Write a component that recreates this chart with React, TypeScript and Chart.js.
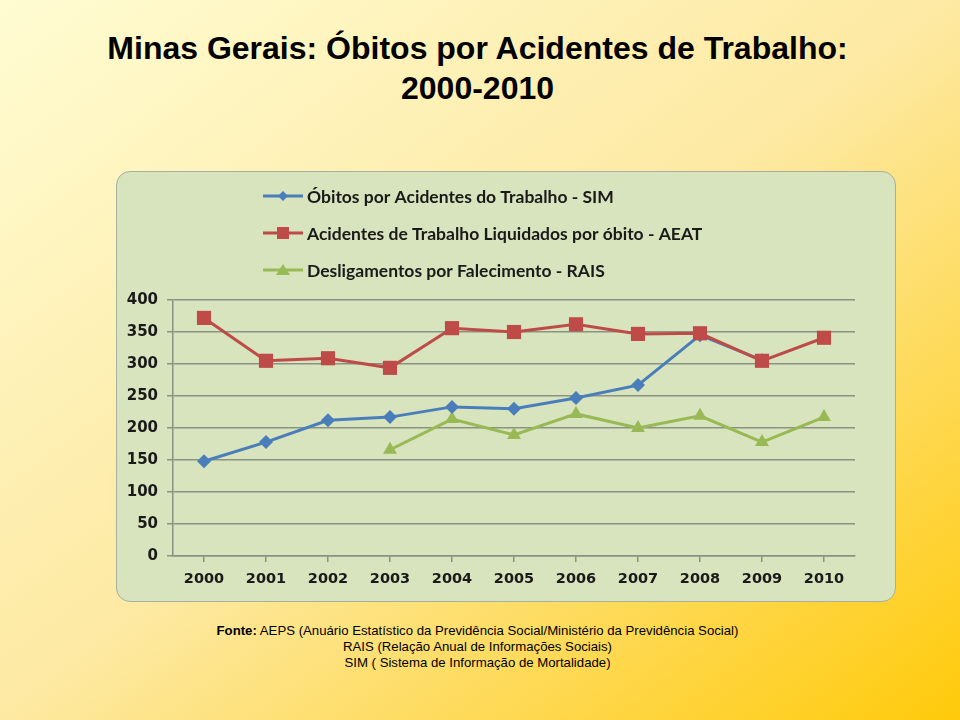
import React, { useEffect, useRef } from "react";
import { Chart, registerables } from "chart.js";

Chart.register(...registerables);

const years = ["2000", "2001", "2002", "2003", "2004", "2005", "2006", "2007", "2008", "2009", "2010"];
const simValues = [148, 178, 212, 217, 233, 230, 247, 267, 345, 306, null];
const aeatValues = [372, 305, 309, 294, 356, 350, 362, 347, 348, 305, 341];
const raisValues = [null, null, null, 166, 214, 189, 222, 200, 219, 178, 217];
const seriesNames = [
  "Óbitos por Acidentes do Trabalho - SIM",
  "Acidentes de Trabalho Liquidados por óbito - AEAT",
  "Desligamentos por Falecimento - RAIS",
];
const yTicks = [0, 50, 100, 150, 200, 250, 300, 350, 400];

const BLUE = "#4a7ebb";
const RED = "#be4b48";
const GREEN = "#98b954";

const legendPlugin = {
  id: "stackedLegend",
  afterDraw(chart: any) {
    const ctx = chart.ctx;
    const ds = chart.data.datasets;
    ctx.save();
    ds.forEach((d: any, i: number) => {
      const y = 24 + i * 37;
      const x0 = 146;
      const x1 = 186;
      ctx.strokeStyle = d.borderColor;
      ctx.lineWidth = 3;
      ctx.beginPath();
      ctx.moveTo(x0, y);
      ctx.lineTo(x1, y);
      ctx.stroke();
      ctx.fillStyle = d.borderColor;
      const cx = (x0 + x1) / 2;
      ctx.beginPath();
      if (d.pointStyle === "rectRot") {
        ctx.moveTo(cx, y - 5);
        ctx.lineTo(cx + 5, y);
        ctx.lineTo(cx, y + 5);
        ctx.lineTo(cx - 5, y);
        ctx.closePath();
      } else if (d.pointStyle === "rect") {
        ctx.rect(cx - 6, y - 6, 12, 12);
      } else {
        ctx.moveTo(cx, y - 6);
        ctx.lineTo(cx + 7, y + 5);
        ctx.lineTo(cx - 7, y + 5);
        ctx.closePath();
      }
      ctx.fill();
      ctx.fillStyle = "#1a1a1a";
      ctx.font = "bold 17.5px Lato";
      ctx.textBaseline = "middle";
      ctx.textAlign = "left";
      ctx.fillText(d.label, 190, y + 1);
    });
    ctx.restore();
  },
};

export default function App() {
  const ref = useRef<HTMLCanvasElement | null>(null);

  useEffect(() => {
    if (!ref.current) return;
    const chart = new Chart(ref.current, {
      type: "line",
      data: {
        labels: years,
        datasets: [
          {
            label: seriesNames[0],
            data: simValues,
            borderColor: BLUE,
            backgroundColor: BLUE,
            borderWidth: 3,
            pointStyle: "rectRot",
            pointRadius: 7,
            pointBorderWidth: 0,
            order: 1,
          },
          {
            label: seriesNames[1],
            data: aeatValues,
            borderColor: RED,
            backgroundColor: RED,
            borderWidth: 3,
            pointStyle: "rect",
            pointRadius: 10,
            pointBorderWidth: 0,
            order: 0,
          },
          {
            label: seriesNames[2],
            data: raisValues,
            borderColor: GREEN,
            backgroundColor: GREEN,
            borderWidth: 3,
            pointStyle: "triangle",
            pointRadius: 8,
            pointBorderWidth: 0,
            order: 2,
          },
        ],
      },
      options: {
        animation: false,
        responsive: true,
        maintainAspectRatio: false,
        layout: { padding: { top: 128, right: 40, left: 0, bottom: 0 } },
        plugins: {
          legend: { display: false },
          tooltip: { enabled: false },
        },
        elements: { line: { tension: 0 } },
        scales: {
          x: {
            offset: true,
            afterFit: (s: any) => {
              s.height = 45;
            },
            grid: {
              drawOnChartArea: false,
              drawTicks: true,
              tickLength: 6,
              color: "#8a9282",
              lineWidth: 1.5,
            },
            border: { color: "#8a9282", width: 1.5 },
            ticks: {
              color: "#1a1a1a",
              font: { family: "'DejaVu Sans'", weight: "bold", size: 14.5 },
              padding: 9,
            },
          },
          y: {
            min: 0,
            max: 400,
            afterFit: (s: any) => {
              s.width = 56;
            },
            afterBuildTicks: (s: any) => {
              s.ticks = yTicks.map((v) => ({ value: v }));
            },
            grid: {
              color: "#8a9282",
              lineWidth: 1.5,
              tickLength: 6,
            },
            border: { color: "#8a9282", width: 1.5 },
            ticks: {
              color: "#1a1a1a",
              font: { family: "'DejaVu Sans'", weight: "bold", size: 15 },
              padding: 9,
            },
          },
        },
      },
      plugins: [legendPlugin],
    });
    return () => chart.destroy();
  }, []);

  return (
    <div
      style={{
        position: "fixed",
        left: 0,
        top: 0,
        width: 960,
        height: 720,
        overflow: "hidden",
        background: "linear-gradient(to bottom right, #fffcd2 0%, #fde9a2 50%, #ffca0a 100%)",
        fontFamily: "'Liberation Sans', Arial, sans-serif",
      }}
    >
      <div
        style={{
          position: "absolute",
          left: 0,
          top: 28,
          width: 955,
          textAlign: "center",
          fontFamily: "'Liberation Sans Narrow', 'Liberation Sans', Arial, sans-serif",
          fontWeight: "bold",
          fontSize: 32,
          lineHeight: "40px",
          color: "#000",
        }}
      >
        Minas Gerais: Óbitos por Acidentes de Trabalho:
        <br />
        2000-2010
      </div>
      <div
        style={{
          position: "absolute",
          left: 116,
          top: 171,
          width: 778,
          height: 429,
          background: "#d7e4bd",
          border: "1px solid #a9ae9f",
          borderRadius: 14,
        }}
      />
      <div style={{ position: "absolute", left: 117, top: 172, width: 778, height: 429 }}>
        <canvas ref={ref} />
      </div>
      <div
        style={{
          position: "absolute",
          left: 0,
          top: 623,
          width: 955,
          textAlign: "center",
          fontSize: 13.2,
          lineHeight: "16px",
          color: "#000",
        }}
      >
        <b>Fonte:</b> AEPS (Anuário Estatístico da Previdência Social/Ministério da Previdência Social)
        <br />
        RAIS (Relação Anual de Informações Sociais)
        <br />
        SIM ( Sistema de Informação de Mortalidade)
      </div>
    </div>
  );
}
